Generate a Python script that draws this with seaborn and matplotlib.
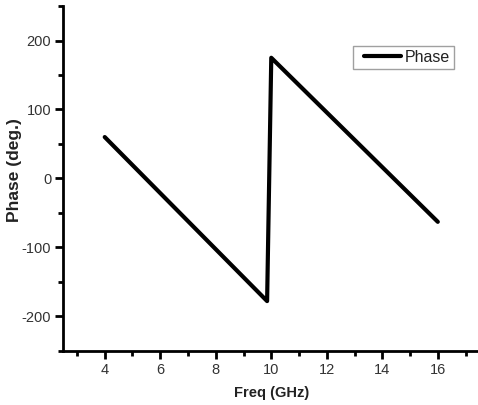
import matplotlib
matplotlib.use("Agg")
import matplotlib.pyplot as plt
from matplotlib.ticker import MultipleLocator
import numpy as np
import seaborn as sns
import pandas as pd

# Phase response vs frequency (wraps at -180 deg)
freq_ghz = [4.0, 9.85, 10.0, 16.0]
phase_deg = [60.0, -178.0, 175.0, -63.0]
x_ticks = [4, 6, 8, 10, 12, 14, 16]
y_ticks = [-200, -100, 0, 100, 200]

sns.set_theme(style="ticks")
plt.rcParams["font.family"] = ["Liberation Sans", "DejaVu Sans"]
plt.rcParams["axes.unicode_minus"] = False

df = pd.DataFrame({"Freq (GHz)": freq_ghz, "Phase": phase_deg})

fig = plt.figure(figsize=(4.78, 4.05), dpi=100)
ax = fig.add_axes([0.132, 0.134, 0.871, 0.851])

sns.lineplot(data=df, x="Freq (GHz)", y="Phase", ax=ax, color="black",
             linewidth=3.0, sort=False, label="Phase", estimator=None)

ax.set_xlim(2.5, 17.5)
ax.set_ylim(-250, 250)
ax.set_xticks(x_ticks)
ax.set_yticks(y_ticks)
ax.xaxis.set_minor_locator(MultipleLocator(1))
ax.yaxis.set_minor_locator(MultipleLocator(50))

for side in ("top", "right"):
    ax.spines[side].set_visible(False)
for side in ("left", "bottom"):
    ax.spines[side].set_linewidth(2.0)
    ax.spines[side].set_color("black")

ax.tick_params(which="major", direction="out", length=6, width=2.0,
               labelsize=10.5, labelcolor="#333333", color="black", pad=2.5)
ax.tick_params(which="minor", direction="out", length=3.5, width=2.0,
               color="black")

ax.set_xlabel("Freq (GHz)", fontsize=10.5, fontweight="bold", color="#222222",
              labelpad=7)
ax.set_ylabel("Phase (deg.)", fontsize=12.5, fontweight="bold", color="#222222")
ax.yaxis.set_label_coords(-0.098, 0.524)

leg = ax.legend(loc="upper left", bbox_to_anchor=(0.697, 0.884),
                frameon=True, fancybox=False, fontsize=11.5,
                handlelength=2.75, handletextpad=0.2, borderpad=0.25,
                borderaxespad=0)
leg.get_frame().set_edgecolor("#888888")
leg.get_frame().set_linewidth(1.0)
for t in leg.get_texts():
    t.set_color("#222222")
# inset the legend sample line from the left edge of its handle area
for ln in leg.get_lines():
    xd = np.asarray(ln.get_xdata(), dtype=float)
    start = xd[0] + 0.16 * (xd[-1] - xd[0])
    ln.set_xdata(np.linspace(start, xd[-1], len(xd)))

fig.savefig("out.png", dpi=100)
